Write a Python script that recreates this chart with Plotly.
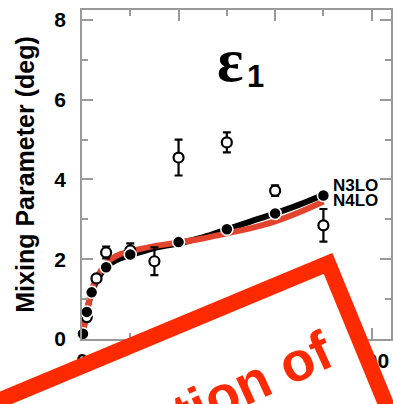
import math
import plotly.graph_objects as go

# Lab energy (MeV) grid for the two chiral EFT curves
curve_energy = [1, 3, 5, 10, 15, 25, 35, 50, 75, 100, 125, 150, 175, 200, 225, 250]
n3lo_eps1 = [0.10, 0.45, 0.68, 1.17, 1.45, 1.80, 1.97, 2.10, 2.28, 2.40, 2.55, 2.75, 2.95, 3.15, 3.37, 3.62]
n4lo_eps1 = [0.10, 0.45, 0.70, 1.22, 1.52, 1.90, 2.08, 2.20, 2.33, 2.42, 2.52, 2.65, 2.78, 2.95, 3.18, 3.45]

# Multi-energy phase-shift analysis (filled circles)
pwa_energy = [1, 5, 10, 25, 50, 100, 150, 200, 250]
pwa_eps1 = [0.13, 0.68, 1.17, 1.80, 2.12, 2.43, 2.75, 3.15, 3.60]

# Single-energy analysis with uncertainties (open circles)
se_energy = [5, 15, 25, 50, 75, 100, 150, 200, 250]
se_eps1 = [0.55, 1.52, 2.17, 2.22, 1.95, 4.55, 4.93, 3.72, 2.85]
se_err = [0.10, 0.05, 0.15, 0.18, 0.35, 0.45, 0.25, 0.13, 0.41]

curve_labels = ["N3LO", "N4LO"]
x_ticks = [0, 100, 200, 300]
y_ticks = [0, 2, 4, 6, 8]

W, H = 393, 404
ML, MR, MT, MB = 82, 0, 10, 65
PW, PH = W - ML - MR, H - MT - MB


def paper(px, py):
    """Pixel position on the page -> paper coordinates."""
    return (px - ML) / PW, (H - MB - py) / PH


fig = go.Figure()

fig.add_trace(go.Scatter(x=curve_energy, y=n3lo_eps1, mode="lines", name=curve_labels[0],
                         line=dict(color="black", width=6, shape="spline"), cliponaxis=False))
fig.add_trace(go.Scatter(x=curve_energy, y=n4lo_eps1, mode="lines", name=curve_labels[1],
                         line=dict(color="#e2442e", width=6, shape="spline"), cliponaxis=False))
fig.add_trace(go.Scatter(x=se_energy, y=se_eps1, mode="markers", name="single-energy",
                         marker=dict(symbol="circle", size=10, color="white",
                                     line=dict(color="black", width=2.2)),
                         error_y=dict(type="data", array=se_err, color="black",
                                      thickness=2.2, width=4),
                         cliponaxis=False))
fig.add_trace(go.Scatter(x=pwa_energy, y=pwa_eps1, mode="markers", name="PWA",
                         marker=dict(symbol="circle", size=12, color="black",
                                     line=dict(color="white", width=1.5)),
                         cliponaxis=False))

axis_font = dict(family="Liberation Sans", size=21, color="black", weight="bold")
common = dict(showline=True, linecolor="#999999", linewidth=1.5, mirror="ticks",
              ticks="inside", ticklen=11, tickwidth=1.5, tickcolor="#999999",
              showgrid=False, zeroline=False, tickfont=axis_font)

fig.update_xaxes(range=[0, 320], tickvals=x_ticks, ticklabelstandoff=2,
                 minor=dict(dtick=50, ticks="inside", ticklen=6, tickwidth=1.5,
                            tickcolor="#999999", showgrid=False),
                 **common)
fig.update_yaxes(range=[0, 8.25], tickvals=y_ticks, ticklabelstandoff=10,
                 minor=dict(dtick=1, ticks="inside", ticklen=6, tickwidth=1.5,
                            tickcolor="#999999", showgrid=False),
                 title=dict(text="Mixing Parameter (deg)", standoff=13,
                            font=dict(family="Liberation Sans", size=25,
                                      color="black", weight="bold")),
                 **common)

annotations = []
# Partial-wave label
ex, ey = paper(231, 60)
annotations.append(dict(x=ex, y=ey, xref="paper", yref="paper", text="ε",
                        showarrow=False, xanchor="center", yanchor="middle",
                        font=dict(family="Liberation Serif", size=62, color="black",
                                  weight="bold")))
sx, sy = paper(257, 77)
annotations.append(dict(x=sx, y=sy, xref="paper", yref="paper", text="1",
                        showarrow=False, xanchor="center", yanchor="middle",
                        font=dict(family="Liberation Sans", size=31, color="black",
                                  weight="bold")))
# Curve labels
for lab, py in zip(curve_labels, [185, 200]):
    lx, ly = paper(333, py)
    annotations.append(dict(x=lx, y=ly, xref="paper", yref="paper", text=lab,
                            showarrow=False, xanchor="left", yanchor="middle",
                            font=dict(family="Liberation Sans", size=17, color="black",
                                      weight="bold")))

# Stamp: rotated red frame with white interior and slanted text
tilt = 22.5
theta = math.radians(tilt)
c, s = math.cos(theta), math.sin(theta)
band = 16
ox, oy = 334, 253                     # outer top-right corner (px)
cx = ox + (s - c) * band / 2          # corner of the frame centre line
cy = oy + (c + s) * band / 2
along_top = (-c, s)
along_right = (s, c)
L1, L2 = 700, 400
p0 = (cx, cy)
p1 = (cx + along_top[0] * L1, cy + along_top[1] * L1)
p2 = (p1[0] + along_right[0] * L2, p1[1] + along_right[1] * L2)
p3 = (cx + along_right[0] * L2, cy + along_right[1] * L2)
pts = [paper(*p) for p in (p0, p1, p2, p3)]
path = "M " + " L ".join(f"{x:.4f},{y:.4f}" for x, y in pts) + " Z"
stamp_red = "#ff2a00"
fig.add_shape(type="path", path=path, xref="paper", yref="paper",
              fillcolor="white", line=dict(color=stamp_red, width=band), layer="above")

tx, ty = paper(136, 435)
annotations.append(dict(x=tx, y=ty, xref="paper", yref="paper", text="Reproduction of",
                        showarrow=False, xanchor="center", yanchor="middle",
                        textangle=-24.5,
                        font=dict(family="Liberation Sans", size=55, color=stamp_red,
                                  weight="bold")))

fig.update_layout(width=W, height=H, margin=dict(l=ML, r=MR, t=MT, b=MB),
                  paper_bgcolor="white", plot_bgcolor="white", showlegend=False,
                  annotations=annotations)

fig.write_html("out.html")
